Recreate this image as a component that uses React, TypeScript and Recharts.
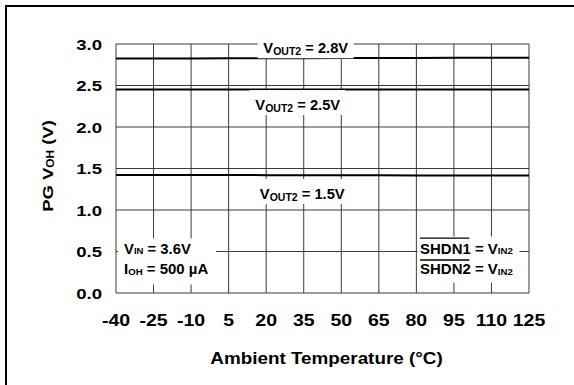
import React from 'react';
import { LineChart, Line, XAxis, YAxis, CartesianGrid, ReferenceDot } from 'recharts';

const temps = [-40, -25, -10, 5, 20, 35, 50, 65, 80, 95, 110, 125];
const vout28 = [2.825, 2.825, 2.826, 2.827, 2.828, 2.829, 2.83, 2.831, 2.832, 2.833, 2.834, 2.835];
const vout25 = [2.452, 2.452, 2.452, 2.452, 2.452, 2.452, 2.452, 2.452, 2.452, 2.452, 2.452, 2.452];
const vout15 = [1.422, 1.422, 1.421, 1.421, 1.42, 1.42, 1.419, 1.418, 1.417, 1.416, 1.415, 1.415];
const xTicks = [-40, -25, -10, 5, 20, 35, 50, 65, 80, 95, 110, 125];
const yTicks = [0, 0.5, 1.0, 1.5, 2.0, 2.5, 3.0];
const seriesNames = ['2.8V', '2.5V', '1.5V'];

const data = temps.map((t, i) => ({ t, a: vout28[i], b: vout25[i], c: vout15[i] }));

const FONT = "'Liberation Sans', Arial, Helvetica, sans-serif";

const ST = ({ x, y, sx = 1, size, anchor = 'start', rotate = 0, children }: any) => (
  <text
    transform={`translate(${x},${y})${rotate ? ` rotate(${rotate})` : ''} scale(${sx},1)`}
    fontFamily={FONT}
    fontWeight="bold"
    fontSize={size}
    textAnchor={anchor}
    fill="#000"
  >
    {children}
  </text>
);

const XTick = (p: any) => (
  <ST x={p.x} y={p.y + 11.5} size={16} sx={1.22} anchor="middle">
    {p.payload.value}
  </ST>
);

const YTick = (p: any) => (
  <ST x={p.x} y={p.y + 5.5} size={15} sx={1.24} anchor="end">
    {Number(p.payload.value).toFixed(1)}
  </ST>
);

const voutLabel = (value: string, dx: number, dy: number) => (props: any) => {
  const vb = props.viewBox || {};
  const cx = vb.x + dx;
  const base = vb.y + dy;
  const w = 86;
  return (
    <g>
      <rect x={cx - w / 2 - 5} y={base - 20} width={w + 10} height={25} fill="#fff" />
      <ST x={cx} y={base} size={14} sx={1.05} anchor="middle">
        V
        <tspan fontSize={10} dy={1.5}>OUT2</tspan>
        <tspan dy={-1.5}>{` = ${value}`}</tspan>
      </ST>
    </g>
  );
};

const vinLabel = (props: any) => {
  const vb = props.viewBox || {};
  const x = vb.x;
  const y = vb.y;
  return (
    <g>
      <rect x={x + 2} y={y - 13} width={98} height={46} fill="#fff" />
      <ST x={x + 8} y={y + 2.3} size={14} sx={1.06}>
        V
        <tspan fontSize={9} dy={0.5}>IN</tspan>
        <tspan dy={-0.5}> = 3.6V</tspan>
      </ST>
      <ST x={x + 8} y={y + 22.5} size={14} sx={1.07}>
        I
        <tspan fontSize={9} dy={0.5}>OH</tspan>
        <tspan dy={-0.5}> = 500 µA</tspan>
      </ST>
    </g>
  );
};

const shdnLabel = (props: any) => {
  const vb = props.viewBox || {};
  const x = vb.x;
  const y = vb.y;
  return (
    <g>
      <rect x={x + 1.2} y={y - 15} width={102} height={46} fill="#fff" />
      <line x1={x + 3.7} x2={x + 53} y1={y - 13.3} y2={y - 13.3} stroke="#000" strokeWidth={1.3} />
      <line x1={x + 3.7} x2={x + 53} y1={y + 8.5} y2={y + 8.5} stroke="#000" strokeWidth={1.3} />
      <ST x={x + 3.7} y={y + 2.3} size={14} sx={1.07}>
        SHDN1 = V
        <tspan fontSize={9} dy={0.5}>IN2</tspan>
      </ST>
      <ST x={x + 3.7} y={y + 22.5} size={14} sx={1.07}>
        SHDN2 = V
        <tspan fontSize={9} dy={0.5}>IN2</tspan>
      </ST>
    </g>
  );
};

const xTitle = (props: any) => {
  const vb = props.viewBox || {};
  return (
    <ST x={vb.x + vb.width / 2 + 4} y={vb.y + 71} size={17} sx={1.11} anchor="middle">
      Ambient Temperature (°C)
    </ST>
  );
};

const yTitle = (props: any) => {
  const vb = props.viewBox || {};
  return (
    <ST x={vb.x + 52.5} y={vb.y + vb.height / 2 - 2.5} size={15.5} sx={1.19} anchor="middle" rotate={-90}>
      PG V
      <tspan fontSize={10} dy={1}>OH</tspan>
      <tspan dy={-1}> (V)</tspan>
    </ST>
  );
};

export default function App() {
  return (
    <div style={{ position: 'absolute', left: 0, top: 0, width: 574, height: 385, background: '#fff' }}>
      <div
        style={{
          position: 'absolute',
          left: 5,
          top: 5,
          right: 0,
          bottom: 0,
          borderLeft: '2px solid #000',
          borderTop: '2px solid #000',
        }}
      />
      <LineChart
        width={574}
        height={385}
        data={data}
        margin={{ top: 44, right: 45, bottom: 0, left: 0 }}
        style={{ position: 'absolute', left: 0, top: 0 }}
      >
        <CartesianGrid stroke="#3a3a3a" strokeWidth={1} />
        <XAxis
          dataKey="t"
          type="number"
          domain={[-40, 125]}
          ticks={xTicks}
          interval={0}
          height={92}
          axisLine={false}
          tickLine={false}
          tickSize={0}
          tickMargin={21}
          tick={XTick}
          label={{ content: xTitle }}
        />
        <YAxis
          type="number"
          domain={[0, 3]}
          ticks={yTicks}
          interval={0}
          width={116}
          axisLine={false}
          tickLine={false}
          tickSize={0}
          tickMargin={14}
          tick={YTick}
          label={{ content: yTitle }}
        />
        <ReferenceDot x={35} y={3.0} r={0} fill="none" stroke="none" ifOverflow="visible" label={voutLabel(seriesNames[0], 2, 9.3)} />
        <ReferenceDot x={32} y={2.25} r={0} fill="none" stroke="none" ifOverflow="visible" label={voutLabel(seriesNames[1], 1.5, 3.8)} />
        <ReferenceDot x={34} y={1.25} r={0} fill="none" stroke="none" ifOverflow="visible" label={voutLabel(seriesNames[2], 1, 9.8)} />
        <ReferenceDot x={-40} y={0.5} r={0} fill="none" stroke="none" ifOverflow="visible" label={vinLabel} />
        <ReferenceDot x={80} y={0.5} r={0} fill="none" stroke="none" ifOverflow="visible" label={shdnLabel} />
        <Line dataKey="a" name={seriesNames[0]} stroke="#000" strokeWidth={2} dot={false} isAnimationActive={false} />
        <Line dataKey="b" name={seriesNames[1]} stroke="#000" strokeWidth={2} dot={false} isAnimationActive={false} />
        <Line dataKey="c" name={seriesNames[2]} stroke="#000" strokeWidth={2} dot={false} isAnimationActive={false} />
      </LineChart>
    </div>
  );
}
